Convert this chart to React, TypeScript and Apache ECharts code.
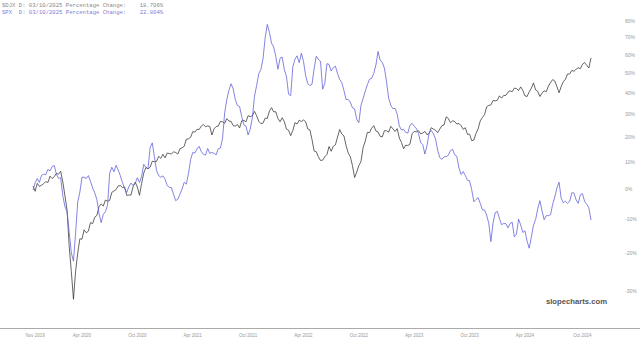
import { useEffect, useRef } from 'react';
import * as echarts from 'echarts';

// Weekly observations starting from this date
const startDate = '2019-10-28';

// $DJX percentage change (%)
const djx = [
  1.0, -0.8, 2.0, 0.9, 1.3, 1.9, 2.6, 2.3, 4.6, 3.7, 4.4, 5.6, 5.3, 6.4, 2.5, -2.4,
  -7.1, -18.2, -25.1, -32.0, -25.0, -20.1, -16.0, -16.1, -13.3, -14.2, -13.7, -11.1, -11.4, -9.4, -8.8, -6.0,
  -5.1, -5.8, -3.8, -4.2, -3.9, -1.2, -0.7, -0.2, 1.1, 1.2, 0.5, 0.7, -2.2, -2.1, -2.1, 0.8,
  2.4, 0.7, -2.2, 2.0, 5.7, 7.8, 7.3, 7.9, 10.2, 10.0, 10.1, 12.1, 11.3, 12.9, 11.5, 13.4,
  13.2, 13.0, 13.9, 13.6, 13.0, 15.1, 15.5, 16.1, 19.0, 19.2, 19.8, 22.2, 22.0, 23.2, 23.1, 24.6,
  25.3, 24.3, 24.7, 24.4, 20.8, 23.4, 24.4, 24.6, 26.7, 26.5, 25.8, 27.9, 26.8, 26.7, 24.8, 24.6,
  25.3, 23.8, 26.9, 27.1, 26.5, 29.2, 28.8, 29.2, 31.2, 29.2, 26.7, 25.7, 25.9, 28.1, 28.0, 31.3,
  32.9, 31.0, 31.0, 28.0, 26.5, 28.3, 26.6, 23.3, 22.8, 20.5, 22.7, 26.1, 25.5, 27.2, 26.6, 27.3,
  26.6, 23.4, 23.0, 18.9, 14.2, 13.9, 11.9, 10.5, 10.6, 11.9, 12.8, 16.0, 14.1, 16.1, 16.7, 19.9,
  23.1, 21.2, 20.4, 16.4, 13.4, 11.9, 8.5, 4.1, 6.1, 8.5, 10.1, 15.6, 18.2, 21.9, 21.8, 23.7,
  24.8, 22.5, 22.1, 20.2, 20.0, 22.6, 22.6, 22.0, 24.5, 23.4, 22.3, 23.5, 19.5, 17.7, 15.1, 16.6,
  16.4, 17.0, 21.3, 22.3, 22.1, 22.6, 21.3, 21.6, 22.3, 20.9, 21.5, 23.9, 23.3, 22.8, 21.8, 23.3,
  24.8, 25.1, 28.7, 28.0, 26.1, 26.9, 26.6, 25.5, 25.8, 24.8, 23.2, 23.9, 21.1, 21.1, 18.4, 18.7,
  21.4, 23.4, 26.9, 28.4, 29.7, 33.3, 33.9, 34.2, 36.3, 36.1, 36.4, 38.5, 37.4, 38.7, 38.7, 40.3,
  41.0, 40.5, 42.3, 42.1, 41.1, 42.9, 41.1, 38.5, 38.2, 40.5, 42.3, 44.9, 41.4, 40.7, 38.2, 39.8,
  41.0, 40.5, 43.3, 45.1, 46.6, 45.9, 43.1, 40.0, 43.1, 45.5, 46.8, 49.5, 49.5, 51.4, 50.9, 52.0,
  52.8, 52.3, 54.7, 55.6, 54.1, 52.7, 58.2,
];

// SPX percentage change (%)
const spx = [
  -0.4, 2.2, 3.7, 2.3, 4.9, 5.3, 5.1, 7.1, 6.5, 8.2, 8.5, 5.2, 3.8, 4.0, -2.4, -6.0,
  -7.6, -14.1, -20.0, -22.3, -14.3, -4.4, -1.1, 4.2, 4.2, 3.7, 4.8, 2.7, 0.3, -1.3, -3.7, -8.3,
  -11.1, -8.5, -7.6, -5.6, 5.6, 7.9, 6.2, 8.6, 6.9, 4.8, 2.3, 0.2, -1.2, 0.8, 2.1, 1.2,
  2.0, 4.0, 2.3, 4.5, 9.0, 7.9, 7.3, 15.6, 17.5, 12.0, 6.7, 4.8, 4.2, 4.7, 3.5, 1.2,
  0.6, 0.5, -1.9, -4.0, -3.5, -1.8, 0.0, 2.4, 1.7, 5.5, 10.8, 13.6, 13.4, 15.0, 16.1, 14.0,
  12.9, 12.6, 15.2, 13.3, 13.6, 13.3, 12.7, 15.2, 15.4, 19.4, 30.5, 36.7, 41.3, 44.5, 41.9, 36.7,
  33.9, 33.4, 28.8, 25.2, 24.6, 20.8, 23.3, 28.3, 38.3, 43.6, 49.7, 51.9, 57.6, 69.6, 77.8, 73.0,
  66.5, 64.3, 59.0, 52.0, 57.9, 58.6, 51.8, 48.3, 39.3, 38.6, 53.4, 57.4, 59.3, 55.5, 60.7, 56.3,
  48.8, 44.5, 43.6, 44.2, 52.4, 59.1, 57.3, 56.3, 41.8, 44.6, 55.0, 54.6, 51.1, 52.8, 53.6, 49.7,
  46.7, 45.0, 41.1, 36.7, 36.8, 35.5, 32.8, 32.3, 27.6, 26.1, 34.0, 37.3, 40.8, 44.0, 46.8, 47.2,
  49.8, 54.3, 61.7, 57.0, 55.7, 52.6, 45.5, 37.4, 34.0, 32.4, 32.6, 29.9, 24.7, 22.9, 23.2, 21.9,
  21.6, 25.0, 25.8, 24.6, 23.5, 21.5, 17.6, 16.8, 13.0, 16.4, 21.7, 22.7, 21.3, 19.1, 14.5, 11.6,
  10.9, 11.9, 12.0, 12.5, 14.4, 14.9, 12.7, 12.1, 7.6, 5.2, 6.3, 4.8, 3.1, 2.9, -0.3, -4.4,
  -3.6, -3.0, -4.9, -7.0, -7.1, -8.7, -11.3, -16.8, -11.3, -8.0, -7.5, -9.8, -11.7, -11.4, -11.4, -12.7,
  -11.4, -11.0, -15.4, -14.6, -10.0, -11.8, -14.1, -13.6, -16.7, -18.7, -15.4, -11.9, -10.1, -6.7, -4.0, -7.3,
  -10.2, -8.9, -8.9, -8.6, -5.2, -2.8, 0.4, 2.4, -3.2, -4.7, -4.2, -4.9, -4.2, -1.3, -1.4, -3.7,
  -4.9, -2.0, -1.6, -4.3, -5.2, -6.4, -10.3,
];

// Right-axis tick labels (% change, log scale)
const yTicks = [-30, -20, -10, 0, 10, 20, 30, 40, 50, 60, 70, 80];
const yMinPct = -38.5;
const yMaxPct = 87.0;

const headerDjx = '$DJX D: 03/10/2025 Percentage Change:    18.706%';
const headerSpx = 'SPX  D: 03/10/2025 Percentage Change:    22.804%';
const watermark = 'slopecharts.com';
const MONTHS = ['Jan', 'Feb', 'Mar', 'Apr', 'May', 'Jun', 'Jul', 'Aug', 'Sep', 'Oct', 'Nov', 'Dec'];

function buildDates(n: number): string[] {
  const out: string[] = [];
  const t0 = Date.parse(startDate + 'T00:00:00Z');
  for (let i = 0; i < n; i++) {
    const d = new Date(t0 + i * 7 * 86400000);
    out.push(d.toISOString().slice(0, 10));
  }
  return out;
}

const toLog = (p: number) => Math.log(1 + p / 100);

export default function App() {
  const ref = useRef<HTMLDivElement>(null);
  useEffect(() => {
    if (!ref.current) return;
    const chart = echarts.init(ref.current, null, { renderer: 'svg' });
    const dates = buildDates(djx.length);
    const isLabel = (idx: number, val: string) => {
      if (idx === 1) return true;
      const m = Number(val.slice(5, 7));
      const d = Number(val.slice(8, 10));
      return (m === 4 || m === 10) && d <= 7;
    };
    chart.setOption({
      animation: false,
      backgroundColor: '#ffffff',
      grid: { left: 33, right: 49, top: 10, bottom: 14, containLabel: false },
      xAxis: {
        type: 'category',
        data: dates,
        boundaryGap: false,
        axisLine: { show: false },
        axisTick: { show: false },
        splitLine: { show: false },
        axisLabel: {
          interval: isLabel,
          formatter: (v: string) => MONTHS[Number(v.slice(5, 7)) - 1] + ' ' + v.slice(0, 4),
          fontSize: 4.5,
          color: '#999',
          margin: 5,
          fontFamily: 'Liberation Sans',
        },
      },
      yAxis: {
        type: 'value',
        position: 'right',
        min: toLog(yMinPct),
        max: toLog(yMaxPct),
        splitLine: { show: false },
        axisLine: { show: false },
        axisTick: { show: false },
        axisLabel: {
          customValues: yTicks.map(toLog),
          formatter: (v: number) => Math.round((Math.exp(v) - 1) * 100) + '%',
          fontSize: 5,
          color: '#999',
          margin: 34,
          fontFamily: 'Liberation Sans',
        },
      },
      graphic: [
        { type: 'line', silent: true, shape: { x1: 0, y1: 328.5, x2: 640, y2: 328.5 }, style: { stroke: '#aaa', lineWidth: 1 } },
        { type: 'text', left: 2, top: 2, style: { text: headerDjx, font: '5.6px "Liberation Mono", monospace', fill: '#888' } },
        { type: 'text', left: 2, top: 9, style: { text: headerSpx, font: '5.6px "Liberation Mono", monospace', fill: '#7d7dd6' } },
        { type: 'text', right: 33, top: 297, style: { text: watermark, font: 'bold 7.7px "Liberation Sans", Arial, sans-serif', fill: '#555' } },
      ],
      series: [
        {
          name: '$DJX',
          type: 'line',
          data: djx.map(toLog),
          showSymbol: false,
          silent: true,
          lineStyle: { color: '#333', width: 0.75 },
        },
        {
          name: 'SPX',
          type: 'line',
          data: spx.map(toLog),
          showSymbol: false,
          silent: true,
          lineStyle: { color: '#5b5bd9', width: 0.75 },
        },
      ],
    });
    return () => chart.dispose();
  }, []);
  return <div ref={ref} style={{ position: 'absolute', left: 0, top: 0, width: 640, height: 342 }} />;
}
